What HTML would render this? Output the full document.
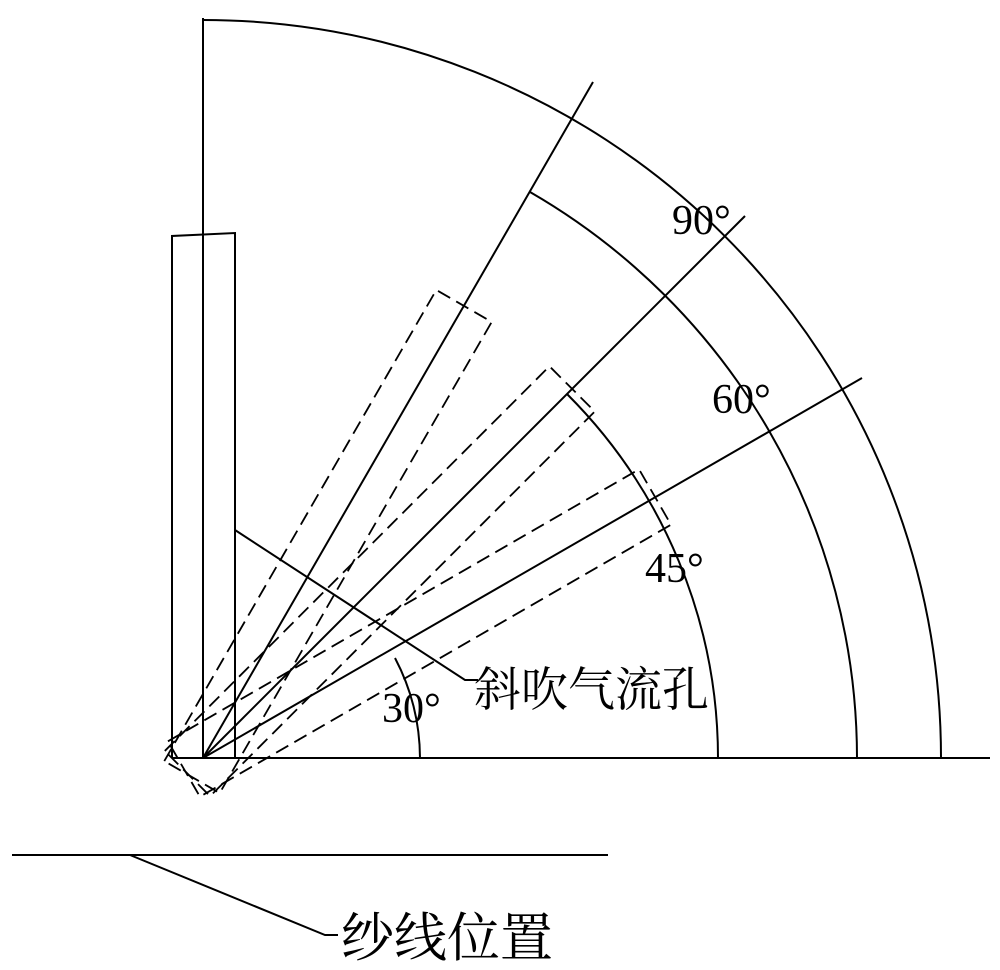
<!DOCTYPE html>
<html><head><meta charset="utf-8"><style>
html,body{margin:0;padding:0;background:#fff;}
svg{display:block}
</style></head><body>
<svg width="1000" height="970" viewBox="0 0 1000 970" xmlns="http://www.w3.org/2000/svg">
<g stroke="#000" stroke-width="2" fill="none">
<line x1="203" y1="18" x2="203" y2="758"/>
<line x1="172" y1="758" x2="990" y2="758"/>
<path d="M172,758 L172,236 L235,233 L235,758"/>
<path d="M203,20 A738,738 0 0 1 941,758"/>
<path d="M530,192 A654,654 0 0 1 857,758"/>
<path d="M567,394 A515,515 0 0 1 718,758"/>
<path d="M395,658 A217,217 0 0 1 420,758"/>
<line x1="203" y1="758" x2="862" y2="378"/>
<line x1="203" y1="758" x2="745" y2="216"/>
<line x1="203" y1="758" x2="593" y2="82"/>
<path d="M235,530 L465,680 L478,680"/>
<line x1="12" y1="855" x2="608" y2="855"/>
<path d="M130,855 L325,935 L338,935"/>
<g stroke-dasharray="14,7" stroke-width="1.8">
<g transform="translate(203,758) rotate(-30)"><rect x="-22" y="-32" width="544" height="64"/></g>
<g transform="translate(203,758) rotate(-45)"><rect x="-22" y="-32" width="544" height="64"/></g>
<g transform="translate(203,758) rotate(-60)"><rect x="-22" y="-32" width="544" height="64"/></g>
</g>
</g>
<g font-family="Liberation Serif, serif" font-size="42" fill="#000">
<text x="672" y="234">90°</text>
<text x="712" y="413">60°</text>
<text x="645" y="582">45°</text>
<text x="382" y="722">30°</text>
</g>
<g font-family="'Liberation Serif','Noto Serif CJK SC',serif" fill="#000">
<text x="474" y="706" font-size="47">斜吹气流孔</text>
<text x="341" y="956" font-size="53">纱线位置</text>
</g>
</svg>
</body></html>
